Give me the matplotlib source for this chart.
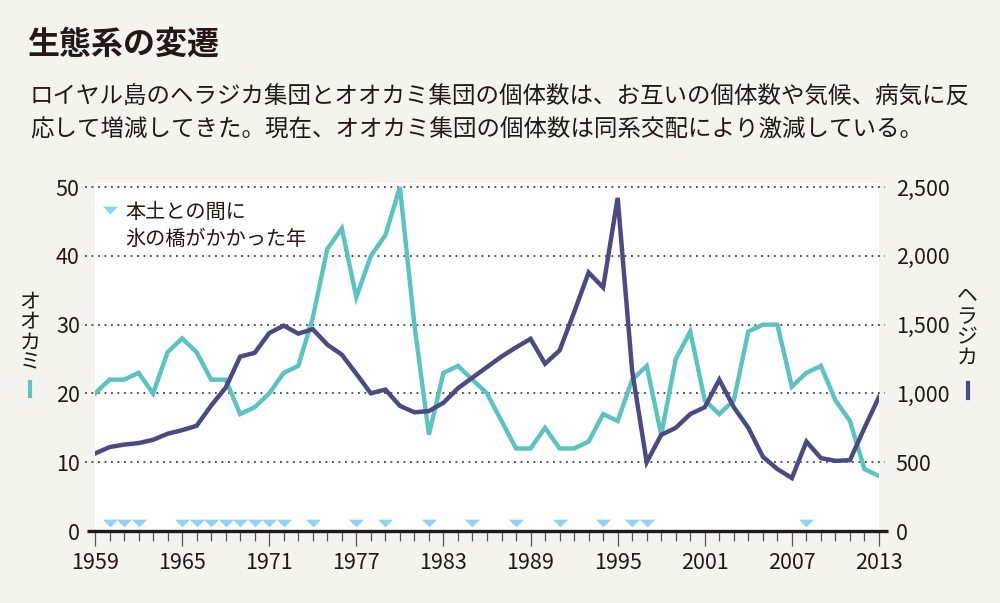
import matplotlib.pyplot as plt
from matplotlib.lines import Line2D

plt.rcParams['font.family'] = ['Noto Sans CJK JP', 'DejaVu Sans']

# Isle Royale populations
years = list(range(1959, 2014))
wolves = [20, 22, 22, 23, 20, 26, 28, 26, 22, 22, 17, 18, 20, 23, 24, 31, 41, 44, 34, 40,
          43, 50, 30, 14, 23, 24, 22, 20, 16, 12, 12, 15, 12, 12, 13, 17, 16, 22, 24, 14,
          25, 29, 19, 17, 19, 29, 30, 30, 21, 23, 24, 19, 16, 9, 8]
moose = [563, 610, 628, 639, 663, 707, 733, 765, 912, 1042, 1268, 1295, 1439, 1493, 1435,
         1467, 1355, 1282, 1143, 1001, 1028, 910, 863, 872, 932, 1038, 1115, 1192, 1268,
         1335, 1397, 1216, 1313, 1590, 1879, 1770, 2422, 1163, 500, 699, 750, 850, 900,
         1100, 900, 750, 540, 450, 385, 650, 530, 510, 515, 750, 975]
ice_bridge_years = [1960, 1961, 1962, 1965, 1966, 1967, 1968, 1969, 1970, 1971, 1972,
                    1974, 1977, 1979, 1982, 1985, 1988, 1991, 1994, 1996, 1997, 2008]
label_years = list(range(1959, 2014, 6))
wolf_ticks = [0, 10, 20, 30, 40, 50]
moose_ticks = [0, 500, 1000, 1500, 2000, 2500]
moose_labels = ['0', '500', '1,000', '1,500', '2,000', '2,500']

BG = '#f5f3ee'
TEAL = '#5cc4c0'
PURPLE = '#4b4a82'
ICE = '#8fd3f5'
INK = '#231815'
# flat downward triangle for the ice bridge marks
FLAT_TRI = [(-1, 0.5), (1, 0.5), (0, -0.5), (-1, 0.5)]

fig = plt.figure(figsize=(10, 6.03), dpi=100, facecolor=BG)
ax = fig.add_axes([0.095, 1 - 531 / 603, 0.784, 348 / 603])
ax.set_facecolor('white')
ax.set_xlim(1959, 2013)
ax.set_ylim(0, 50.6)

# dotted gridlines running a little past both edges
ytr = ax.get_yaxis_transform()
for v in wolf_ticks[1:]:
    ax.plot([-0.0128, 1.0077], [v, v], transform=ytr, color='#444444', lw=1.3,
            ls=(0, (1, 2.6)), clip_on=False, zorder=1)
ax.plot([-0.0102, 1.0115], [0, 0], transform=ytr, color=INK, lw=2.4,
        clip_on=False, zorder=5, solid_capstyle='butt')

ax.plot(years, wolves, color=TEAL, lw=3.2, zorder=3, solid_joinstyle='miter')
ax.plot(ice_bridge_years, [1.1] * len(ice_bridge_years), linestyle='none',
        marker=FLAT_TRI, color=ICE, markersize=11, markeredgewidth=0, zorder=4,
        clip_on=False)

for s in ax.spines.values():
    s.set_visible(False)
ax.set_yticks(wolf_ticks)
ax.tick_params(axis='y', length=0, pad=11, labelsize=15.5, labelcolor=INK)
ax.set_xticks(label_years)
ax.set_xticks(years, minor=True)
ax.tick_params(axis='x', which='major', length=11, width=0.9, color='#555555',
               pad=4, labelsize=15.5, labelcolor=INK)
ax.tick_params(axis='x', which='minor', length=7, width=0.9, color='#555555')

ax2 = ax.twinx()
ax2.set_ylim(0, 2530)
ax2.plot(years, moose, color=PURPLE, lw=3.2, zorder=3, solid_joinstyle='miter')
for s in ax2.spines.values():
    s.set_visible(False)
ax2.set_yticks(moose_ticks)
ax2.set_yticklabels(moose_labels)
ax2.tick_params(axis='y', length=0, pad=12, labelsize=15.5, labelcolor=INK)

# titles
fig.text(0.027, 1 - 45 / 603, '生態系の変遷', fontsize=23, weight='bold',
         color=INK, va='center')
fig.text(0.030, 1 - 97 / 603,
         'ロイヤル島のヘラジカ集団とオオカミ集団の個体数は、お互いの個体数や気候、病気に反',
         fontsize=16.9, color=INK, va='center')
fig.text(0.030, 1 - 130 / 603,
         '応して増減してきた。現在、オオカミ集団の個体数は同系交配により激減している。',
         fontsize=16.9, color=INK, va='center')

# axis names, stacked vertically
fig.text(0.030, 1 - 332 / 603, 'オ\nオ\nカ\nミ', fontsize=15, color=INK,
         ha='center', va='center', linespacing=0.92)
fig.add_artist(Line2D([0.030, 0.030], [1 - 382 / 603, 1 - 396 / 603],
                      transform=fig.transFigure, color=TEAL, lw=3))
fig.text(0.967, 1 - 327 / 603, 'ヘ\nラ\nジ\nカ', fontsize=15, color=INK,
         ha='center', va='center', linespacing=0.92)
fig.add_artist(Line2D([0.968, 0.968], [1 - 383 / 603, 1 - 398 / 603],
                      transform=fig.transFigure, color=PURPLE, lw=3))

# legend for the ice bridge markers
fig.add_artist(Line2D([0.110], [1 - 210 / 603], transform=fig.transFigure,
                      marker=FLAT_TRI, color=ICE, markersize=11, markeredgewidth=0,
                      linestyle='none'))
fig.text(0.125, 1 - 226 / 603, '本土との間に\n氷の橋がかかった年', fontsize=14.5,
         color=INK, va='center', linespacing=1.4)

fig.savefig('out.png', dpi=100, facecolor=BG)
